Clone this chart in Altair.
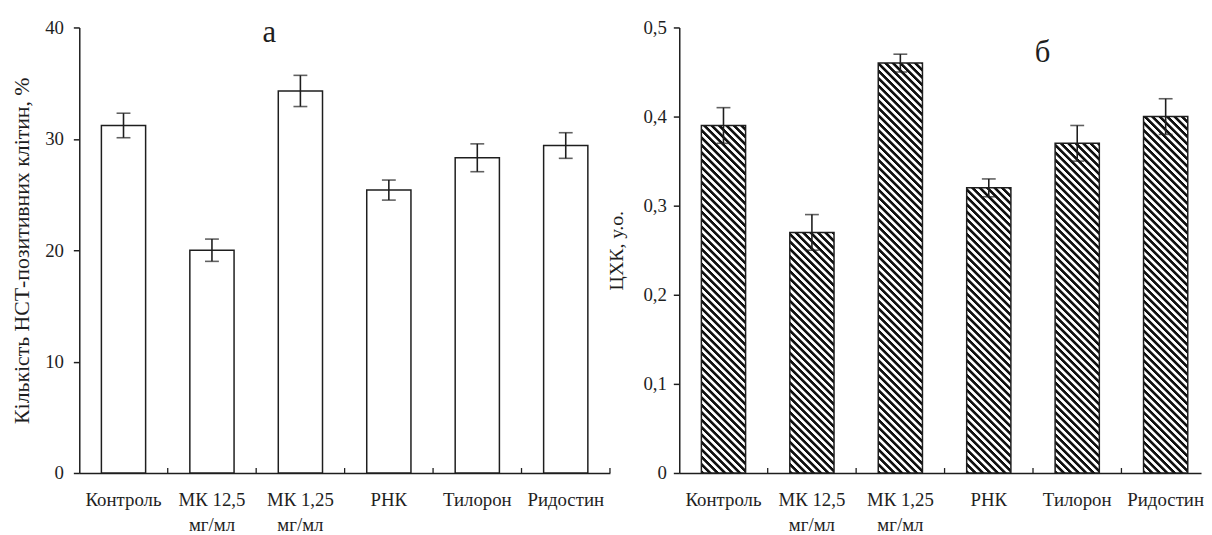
import math
import altair as alt
import pandas as pd

# ---------------- data ----------------
categories = ["Контроль", "МК 12,5\nмг/мл", "МК 1,25\nмг/мл", "РНК", "Тилорон", "Ридостин"]
nst_values = [31.2, 20.0, 34.3, 25.4, 28.3, 29.4]
nst_errors = [1.1, 1.0, 1.4, 0.9, 1.25, 1.15]
chk_values = [0.39, 0.27, 0.46, 0.32, 0.37, 0.40]
chk_errors = [0.02, 0.02, 0.01, 0.01, 0.02, 0.02]
left_ticks = [0, 10, 20, 30, 40]
right_ticks = [0, 0.1, 0.2, 0.3, 0.4, 0.5]
left_domain = [0, 40]
right_domain = [0, 0.5]
panel_letters = ["а", "б"]
y_titles = ["Кількість НСТ-позитивних клітин, %", "ЦХК, у.о."]

# ---------------- styling ----------------
FONT = "Liberation Serif"
INK = "#1e1e1e"
H = 450
WL = 536
WR = 527
PAD_IN = 0.5
PAD_OUT_L = 0.25
PAD_OUT_R = 0.2
ALIGN_R = 0.625
STRIPE_PERIOD = 7.5


def frame(values, errors):
    return pd.DataFrame({
        "cat": categories,
        "value": values,
        "lo": [v - e for v, e in zip(values, errors)],
        "hi": [v + e for v, e in zip(values, errors)],
    })


def x_enc(scale, axis=None, band_position=None):
    kw = {}
    if band_position is not None:
        kw["bandPosition"] = band_position
    return alt.X("cat:N", sort=categories, scale=scale, axis=axis, **kw)


def x_axis():
    return alt.Axis(title=None, ticks=False, tickSize=0, labelAngle=0,
                    labelFont=FONT, labelFontSize=19, labelColor=INK,
                    labelPadding=18, labelExpr="split(datum.label, '\\n')",
                    labelLineHeight=25, labelOverlap=False, labelLimit=0,
                    domainColor=INK, domainWidth=1.5)


def y_axis(title, values, label_pad, title_pad, label_expr=None, title_size=19):
    kw = {}
    if label_expr:
        kw["labelExpr"] = label_expr
    return alt.Axis(title=title, values=values, grid=False,
                    tickSize=6, tickColor=INK, tickWidth=1.5,
                    domainColor=INK, domainWidth=1.5,
                    labelFont=FONT, labelFontSize=19, labelColor=INK,
                    labelPadding=label_pad,
                    titleFont=FONT, titleFontSize=title_size,
                    titleFontWeight="normal", titleColor=INK,
                    titlePadding=title_pad, **kw)


def stripe_gradient(h, w):
    # diagonal "\" stripes at 45 degrees in screen space (objectBoundingBox units)
    k = (w + h) / (w * w + h * h)
    n = (w + h) / STRIPE_PERIOD
    stops = []
    for i in range(int(math.ceil(n)) + 1):
        for frac, col in [(0.0, "#101010"), (0.37, "#101010"), (0.5, "#ffffff"), (0.87, "#ffffff")]:
            off = (i + frac) / n
            if off <= 1.0:
                stops.append(alt.GradientStop(offset=round(off, 5), color=col))
    return alt.LinearGradient(gradient="linear", stops=stops,
                              x1=0, y1=1, x2=k * w, y2=1 - k * h)


def panel(df, width, scale_x, step, y_scale, yax, hatched, letter, letter_x, letter_y, end_tick):
    base = alt.Chart(df)
    layers = []
    if hatched:
        bw = step * (1 - PAD_IN)
        for i, c in enumerate(categories):
            hpx = df["value"][i] / right_domain[1] * H
            y_kw = {"axis": yax} if i == 0 else {}
            layers.append(
                base.transform_filter(alt.datum.cat == c)
                .mark_bar(fill=stripe_gradient(hpx, bw), stroke=INK, strokeWidth=1.5)
                .encode(x=x_enc(scale_x, x_axis() if i == 0 else None),
                        y=alt.Y("value:Q", scale=y_scale, **y_kw))
            )
    else:
        layers.append(
            base.mark_bar(fill="white", stroke=INK, strokeWidth=1.5)
            .encode(x=x_enc(scale_x, x_axis()),
                    y=alt.Y("value:Q", scale=y_scale, axis=yax))
        )
    layers.append(base.mark_rule(color=INK, strokeWidth=1.6)
                  .encode(x=x_enc(scale_x), y=alt.Y("lo:Q", scale=y_scale), y2="hi:Q"))
    layers.append(base.mark_tick(color=INK, size=14, thickness=1.6)
                  .encode(x=x_enc(scale_x), y=alt.Y("lo:Q", scale=y_scale)))
    layers.append(base.mark_tick(color=INK, size=14, thickness=1.6)
                  .encode(x=x_enc(scale_x), y=alt.Y("hi:Q", scale=y_scale)))
    # small inward ticks at the category boundaries (scale without padding)
    tick_scale = alt.Scale(domain=categories, paddingInner=0, paddingOuter=0,
                           range=[0, step * len(categories)])
    inner = pd.DataFrame({"cat": categories[1:]})
    layers.append(alt.Chart(inner).mark_rule(color=INK, strokeWidth=1.3)
                  .encode(x=x_enc(tick_scale, band_position=0),
                          y=alt.value(H - 5), y2=alt.value(H)))
    if end_tick:
        last = pd.DataFrame({"cat": categories[-1:]})
        layers.append(alt.Chart(last).mark_rule(color=INK, strokeWidth=1.3)
                      .encode(x=x_enc(tick_scale, band_position=1),
                              y=alt.value(H - 5), y2=alt.value(H)))
    lab = pd.DataFrame({"letter": [letter]})
    layers.append(alt.Chart(lab).mark_text(font=FONT, fontSize=31, color=INK,
                                           baseline="alphabetic", align="center")
                  .encode(text="letter:N", x=alt.value(letter_x), y=alt.value(letter_y)))
    return alt.layer(*layers).resolve_scale(x="independent").properties(width=width, height=H)


left_df = frame(nst_values, nst_errors)
right_df = frame(chk_values, chk_errors)

step_l = WL / (len(categories) - PAD_IN + 2 * PAD_OUT_L)
step_r = WR / (len(categories) - PAD_IN + 2 * PAD_OUT_R)

left_x = alt.Scale(domain=categories, paddingInner=PAD_IN, paddingOuter=PAD_OUT_L)
right_x = alt.Scale(domain=categories, paddingInner=PAD_IN, paddingOuter=PAD_OUT_R, align=ALIGN_R)

left_y = alt.Scale(domain=left_domain, nice=False)
right_y = alt.Scale(domain=right_domain, nice=False)

left_axis = y_axis(y_titles[0], left_ticks, 10, 11, title_size=22)
right_axis = y_axis(y_titles[1], right_ticks, 7, 17, title_size=20,
                    label_expr="datum.value == 0 ? '0' : replace(format(datum.value, '.1f'), '.', ',')")

left = panel(left_df, WL, left_x, step_l, left_y, left_axis, False, panel_letters[0], 192, 14.5, True)
right = panel(right_df, WR, right_x, step_r, right_y, right_axis, True, panel_letters[1], 367, 35, False)

chart = alt.hconcat(left, right, spacing=70, bounds="flush").properties(
    padding={"left": 3, "top": 6, "right": 0, "bottom": 0}
).configure_view(stroke=None)

chart.save("out.html", embed_options={"renderer": "svg", "actions": False})
